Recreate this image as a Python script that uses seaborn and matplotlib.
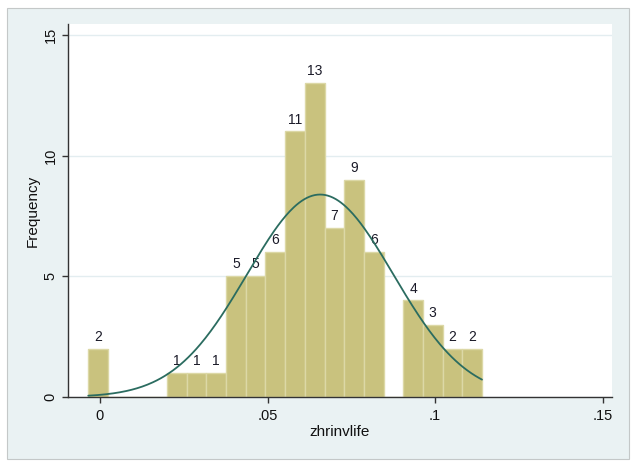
import numpy as np
import pandas as pd
import seaborn as sns
import matplotlib.pyplot as plt
from matplotlib.patches import Rectangle

# frequencies per bin (20 bins between min and max of zhrinvlife)
counts = [2, 0, 0, 0, 1, 1, 1, 5, 5, 6, 11, 13, 7, 9, 6, 0, 4, 3, 2, 2]
x_min = -0.0035
x_max = 0.1140
# normal density overlay parameters
mu = 0.0657
sigma = 0.0218
xticks = [0, 0.05, 0.1, 0.15]
xtick_labels = ["0", ".05", ".1", ".15"]
yticks = [0, 5, 10, 15]

edges = np.linspace(x_min, x_max, len(counts) + 1)
width = edges[1] - edges[0]
df = pd.DataFrame({"zhrinvlife": (edges[:-1] + edges[1:]) / 2, "n": counts})

sns.set_theme(style="white")
plt.rcParams["font.family"] = ["Liberation Sans", "DejaVu Sans"]

W, H = 636, 473
fig = plt.figure(figsize=(W / 100, H / 100), dpi=100)
fig.patch.set_facecolor("white")
# stata-like graph region
fig.add_artist(Rectangle((7 / W, 1 - 459 / H), 622 / W, 451 / H,
                         transform=fig.transFigure, facecolor="#EAF2F3",
                         edgecolor="#C4C8C8", lw=0.8, zorder=0))

ax = fig.add_axes([68 / W, 1 - 397 / H, 544 / W, 373 / H])
ax.set_facecolor("white")

sns.histplot(data=df, x="zhrinvlife", weights="n", bins=len(counts),
             binrange=(x_min, x_max),
             color="#C9C27E", edgecolor="#DCD8A6", linewidth=1, alpha=1,
             ax=ax, zorder=2)

for p in ax.patches:
    h = p.get_height()
    if h > 0:
        ax.annotate(f"{int(round(h))}", (p.get_x() + p.get_width() / 2, h),
                    xytext=(0, 3.5), textcoords="offset points",
                    ha="center", va="bottom", fontsize=10, color="#1a1a28")

xs = np.linspace(x_min, x_max, 300)
ys = sum(counts) * width * np.exp(-0.5 * ((xs - mu) / sigma) ** 2) / (sigma * np.sqrt(2 * np.pi))
sns.lineplot(x=xs, y=ys, color="#2B6C60", lw=1.3, ax=ax, zorder=3)

ax.set_xlim(-0.00955, 0.1528)
ax.set_ylim(0, 15.45)
ax.set_xticks(xticks)
ax.set_xticklabels(xtick_labels)
ax.set_yticks(yticks)
ax.set_yticklabels([str(v) for v in yticks], rotation=90, va="center")
ax.yaxis.grid(True, color="#E3EDF0", lw=1)
ax.set_axisbelow(True)

for s in ["top", "right"]:
    ax.spines[s].set_visible(False)
for s in ["left", "bottom"]:
    ax.spines[s].set_color("#333333")
    ax.spines[s].set_linewidth(1)

ax.tick_params(axis="both", which="major", length=4.3, width=1, color="#333333",
               labelsize=10.5, labelcolor="#111111", direction="out",
               bottom=True, left=True)
ax.tick_params(axis="y", pad=3)
ax.tick_params(axis="x", pad=4)
ax.set_xlabel("zhrinvlife", fontsize=11, color="#111111")
ax.set_ylabel("Frequency", fontsize=11, color="#111111")
ax.xaxis.set_label_coords(0.5, -(432 - 397) / 373)
ax.xaxis.label.set_va("center")
ax.yaxis.set_label_coords(-(68 - 33) / 544, 0.5)
ax.yaxis.label.set_va("center")

fig.savefig("out.png", dpi=100)
